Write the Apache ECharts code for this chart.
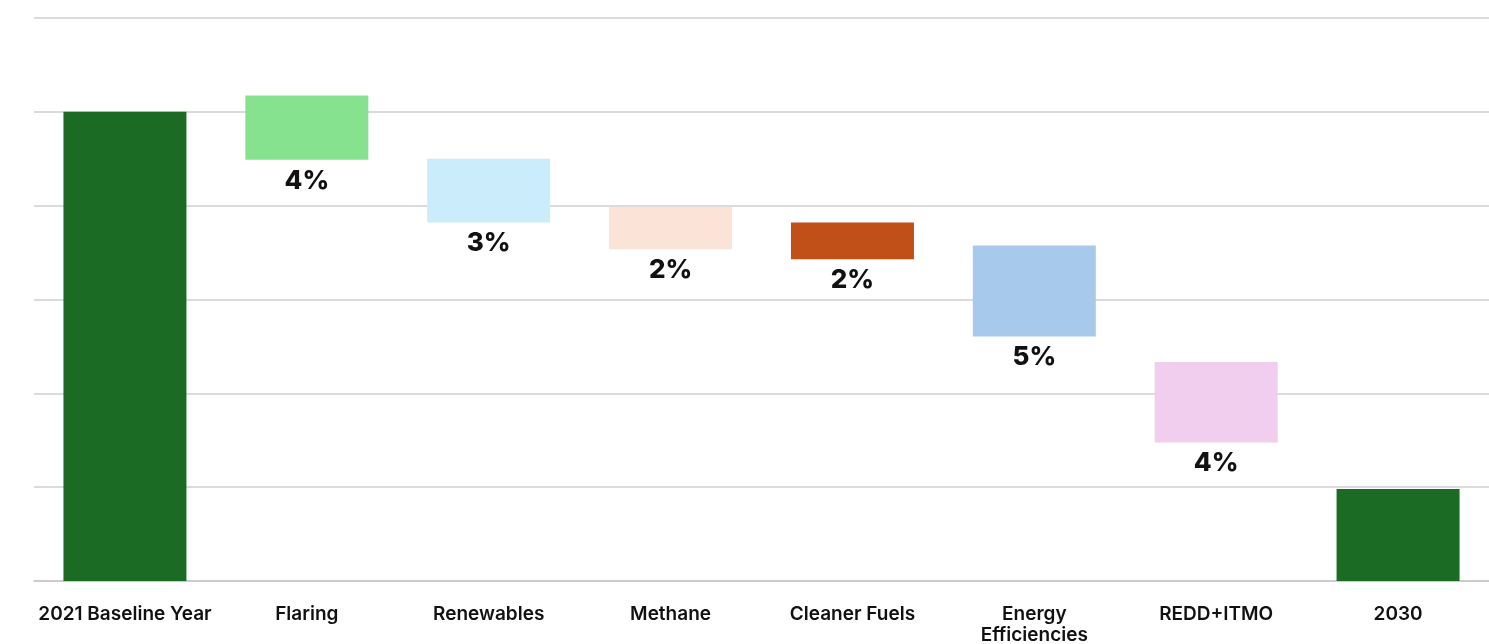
<!DOCTYPE html>
<html>
<head>
<meta charset="utf-8">
<script src="https://cdn.jsdelivr.net/npm/echarts@6/dist/echarts.min.js"></script>
<style>
  html, body { margin: 0; padding: 0; background: #ffffff; }
  #chart { width: 1489px; height: 644px; }
</style>
</head>
<body>
<div id="chart"></div>
<script>
// Emission reduction waterfall: each step spans from its low to its high level
const categories = ['2021 Baseline Year', 'Flaring', 'Renewables', 'Methane', 'Cleaner Fuels', 'Energy\nEfficiencies', 'REDD+ITMO', '2030'];
const lowValues  = [0, 89.8, 76.4, 70.7, 68.6, 52.1, 29.5, 0];
const highValues = [100, 103.5, 90.0, 79.7, 76.4, 71.5, 46.7, 19.6];
const stepLabels = ['', '4%', '3%', '2%', '2%', '5%', '4%', ''];
const barColors  = ['#1b6b24', '#87e28f', '#cbecfa', '#fce3d7', '#c05018', '#a7caec', '#f2ceee', '#1b6b24'];
const yTicks = { min: 0, max: 120, interval: 20 };

const chart = echarts.init(document.getElementById('chart'));

const visible = highValues.map((h, i) => ({
  value: +(h - lowValues[i]).toFixed(2),
  itemStyle: { color: barColors[i] },
  label: { show: stepLabels[i] !== '', formatter: stepLabels[i] }
}));

chart.setOption({
  animation: false,
  backgroundColor: '#ffffff',
  grid: { left: 34, right: 0, top: 18, bottom: 63, containLabel: false, outerBoundsMode: 'none' },
  xAxis: {
    type: 'category',
    data: categories,
    axisLine: { show: true, lineStyle: { color: '#c8c8c8', width: 1.5 } },
    axisTick: { show: false },
    axisLabel: {
      interval: 0,
      margin: 23,
      color: '#111111',
      fontFamily: 'Inter',
      fontWeight: 600,
      fontSize: 19,
      lineHeight: 21
    }
  },
  yAxis: {
    type: 'value',
    min: yTicks.min,
    max: yTicks.max,
    interval: yTicks.interval,
    axisLabel: { show: false },
    axisLine: { show: false },
    axisTick: { show: false },
    splitLine: { lineStyle: { color: '#cfcfcf', width: 1.5 } }
  },
  series: [
    {
      name: 'base',
      type: 'bar',
      stack: 'wf',
      barWidth: 123,
      itemStyle: { color: 'transparent' },
      emphasis: { disabled: true },
      data: lowValues
    },
    {
      name: 'step',
      type: 'bar',
      stack: 'wf',
      barWidth: 123,
      label: {
        position: 'bottom',
        distance: 8,
        color: '#111111',
        fontFamily: 'Inter',
        fontWeight: 800,
        fontSize: 26
      },
      data: visible
    }
  ]
});
</script>
</body>
</html>
